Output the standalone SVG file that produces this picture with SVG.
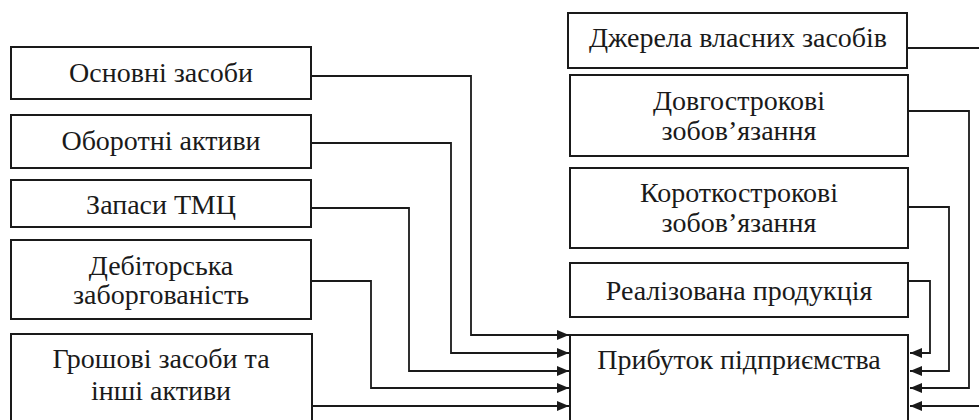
<svg xmlns="http://www.w3.org/2000/svg" width="979" height="420" viewBox="0 0 979 420">
<defs>
<style>
.box{fill:#fff;stroke:#1a1a1a;stroke-width:2}
.t{font-family:'Liberation Serif','Times New Roman',serif;font-size:28px;fill:#1a1a1a;text-anchor:middle}
.c{fill:none;stroke:#1a1a1a;stroke-width:1.8}
</style>
<marker id="ah" markerUnits="userSpaceOnUse" markerWidth="13" markerHeight="11" refX="12" refY="5" orient="auto">
<path d="M0,0 L12,5 L0,10 z" fill="#1a1a1a"/>
</marker>
</defs>
<rect width="979" height="420" fill="#fff"/>
<g id="connectors">
<path class="c" marker-end="url(#ah)" d="M311,76 H471 V335 H569"/>
<path class="c" marker-end="url(#ah)" d="M311,143 H451 V353 H569"/>
<path class="c" marker-end="url(#ah)" d="M311,208 H409 V371 H569"/>
<path class="c" marker-end="url(#ah)" d="M311,281 H371 V388 H569"/>
<path class="c" marker-end="url(#ah)" d="M312,406 H569"/>
<path class="c" marker-end="url(#ah)" d="M908,281 H930 V353 H910"/>
<path class="c" marker-end="url(#ah)" d="M908,207 H949 V371 H910"/>
<path class="c" marker-end="url(#ah)" d="M908,111 H969 V388 H910"/>
<path class="c" marker-end="url(#ah)" d="M907,48 H990 V406 H910"/>
</g>
<g id="osnovni"><rect class="box" x="11" y="47" width="300" height="52"/><text class="t" x="161" y="82">Основні засоби</text></g>
<g id="oborotni"><rect class="box" x="11" y="115" width="300" height="53"/><text class="t" x="161" y="150">Оборотні активи</text></g>
<g id="zapasy"><rect class="box" x="11" y="180" width="300" height="47"/><text class="t" x="161" y="214">Запаси ТМЦ</text></g>
<g id="debitorska"><rect class="box" x="11" y="240" width="300" height="79"/><text class="t" x="161" y="275">Дебіторська</text><text class="t" x="161" y="304">заборгованість</text></g>
<g id="groshovi"><rect class="box" x="11" y="334" width="301" height="100"/><text class="t" x="161" y="368">Грошові засоби та</text><text class="t" x="161" y="400">інші активи</text></g>
<g id="dzherela"><rect class="box" x="568" y="13" width="339" height="55"/><text class="t" x="738" y="47">Джерела власних засобів</text></g>
<g id="dovgostrokovi"><rect class="box" x="570" y="75" width="338" height="81"/><text class="t" x="739" y="110">Довгострокові</text><text class="t" x="739" y="140">зобов’язання</text></g>
<g id="korotkostrokovi"><rect class="box" x="570" y="168" width="338" height="80"/><text class="t" x="739" y="202">Короткострокові</text><text class="t" x="739" y="232">зобов’язання</text></g>
<g id="realizovana"><rect class="box" x="570" y="263" width="338" height="54"/><text class="t" x="739" y="300">Реалізована продукція</text></g>
<g id="prybutok"><rect class="box" x="570" y="335" width="338" height="100"/><text class="t" x="739" y="369">Прибуток підприємства</text></g>
</svg>
